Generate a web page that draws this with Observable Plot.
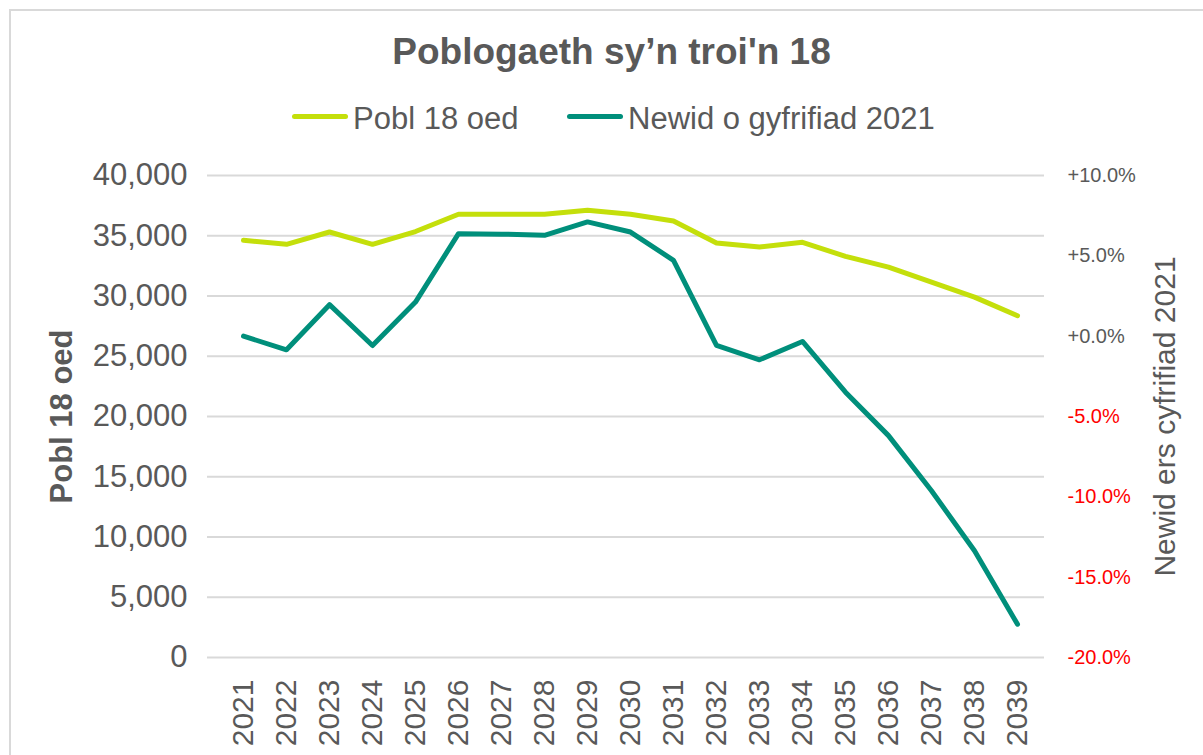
<!DOCTYPE html>
<html>
<head>
<meta charset="utf-8">
<script src="https://cdn.jsdelivr.net/npm/d3@7"></script>
<script src="https://cdn.jsdelivr.net/npm/@observablehq/plot@0.6"></script>
<style>
  body { margin: 0; background: #fff; }
  #wrap { position: relative; width: 1203px; height: 755px; overflow: hidden; background: #fff; font-family: "Liberation Sans", Arial, sans-serif; color: #595959; }
  #border { position: absolute; left: 9px; top: 9px; width: 1300px; height: 900px; border-top: 2px solid #d9d9d9; border-left: 2px solid #d9d9d9; }
  #title { position: absolute; top: 34px; left: 0; width: 1223px; text-align: center; font-size: 37px; line-height: 36px; font-weight: bold; }
  .sw { position: absolute; top: 114px; height: 5px; border-radius: 3px; }
  .lt { position: absolute; top: 103px; font-size: 31px; line-height: 31px; white-space: nowrap; }
  svg { position: absolute; left: 0; top: 160px; }
</style>
</head>
<body>
<div id="wrap">
  <div id="border"></div>
  <div id="title">Poblogaeth sy’n troi'n 18</div>
  <div class="sw" style="left:292px;width:56px;background:#c4df0b"></div>
  <div class="lt" style="left:353px">Pobl 18 oed</div>
  <div class="sw" style="left:567px;width:56px;background:#008f7b"></div>
  <div class="lt" style="left:628px">Newid o gyfrifiad 2021</div>
</div>
<script>
const years = [2021,2022,2023,2024,2025,2026,2027,2028,2029,2030,2031,2032,2033,2034,2035,2036,2037,2038,2039];
const pobl18 = [34620,34290,35310,34290,35350,36780,36780,36780,37120,36780,36230,34400,34070,34460,33290,32400,31160,29910,28360];
const newid = [0.0,-0.85,1.96,-0.58,2.12,6.38,6.35,6.28,7.11,6.48,4.72,-0.58,-1.47,-0.33,-3.49,-6.19,-9.62,-13.36,-17.93];
const leftTicks = [0,5000,10000,15000,20000,25000,30000,35000,40000];
const rightTicksPos = [0,5,10];
const rightTicksNeg = [-5,-10,-15,-20];
const leftTitle = "Pobl 18 oed";
const rightTitle = "Newid ers cyfrifiad 2021";

const green = "#c4df0b", teal = "#008f7b", grey = "#595959";
const pMin = -20, pMax = 10, yMax = 40000;
const pctToY = p => (p - pMin) / (pMax - pMin) * yMax;
const yToPct = v => v / yMax * (pMax - pMin) + pMin;

const data = years.map((year, i) => ({year, pop: pobl18[i], change: newid[i]}));

const chart = Plot.plot({
  width: 1203,
  height: 595,
  marginLeft: 215,
  marginRight: 159,
  marginTop: 15,
  marginBottom: 98,
  style: {fontFamily: "'Liberation Sans', Arial, sans-serif", background: "transparent", overflow: "visible"},
  x: {type: "point", domain: years, padding: 0.5, axis: null},
  y: {domain: [0, yMax], axis: null},
  marks: [
    Plot.ruleY(leftTicks, {stroke: "#d9d9d9", strokeWidth: 2}),
    Plot.axisY(leftTicks, {anchor: "left", tickSize: 8, tickPadding: 20, stroke: "#d9d9d9", strokeWidth: 2, fill: grey, fontSize: 31, tickFormat: d3.format(","), label: null}),
    Plot.axisY(rightTicksPos.map(pctToY), {anchor: "right", tickSize: 0, tickPadding: 23, fill: grey, fontSize: 20, tickFormat: v => "+" + yToPct(v).toFixed(1) + "%", label: null}),
    Plot.axisY(rightTicksNeg.map(pctToY), {anchor: "right", tickSize: 0, tickPadding: 23, fill: "#ff0000", fontSize: 20, tickFormat: v => yToPct(v).toFixed(1) + "%", label: null}),
    Plot.axisX(years, {anchor: "bottom", tickSize: 0, tickPadding: 22, tickRotate: -90, fill: grey, fontSize: 30, tickFormat: d => String(d), label: null}),
    Plot.text([leftTitle], {frameAnchor: "left", textAnchor: "middle", dx: -153, rotate: -90, fontSize: 31, fontWeight: "bold", fill: grey}),
    Plot.text([rightTitle], {frameAnchor: "right", textAnchor: "middle", dx: 121, rotate: -90, fontSize: 30, fill: grey}),
    Plot.line(data, {x: "year", y: "pop", stroke: green, strokeWidth: 5, strokeLinecap: "round", strokeLinejoin: "round"}),
    Plot.line(data, {x: "year", y: d => pctToY(d.change), stroke: teal, strokeWidth: 5, strokeLinecap: "round", strokeLinejoin: "round"})
  ]
});
document.getElementById("wrap").appendChild(chart);
</script>
</body>
</html>
